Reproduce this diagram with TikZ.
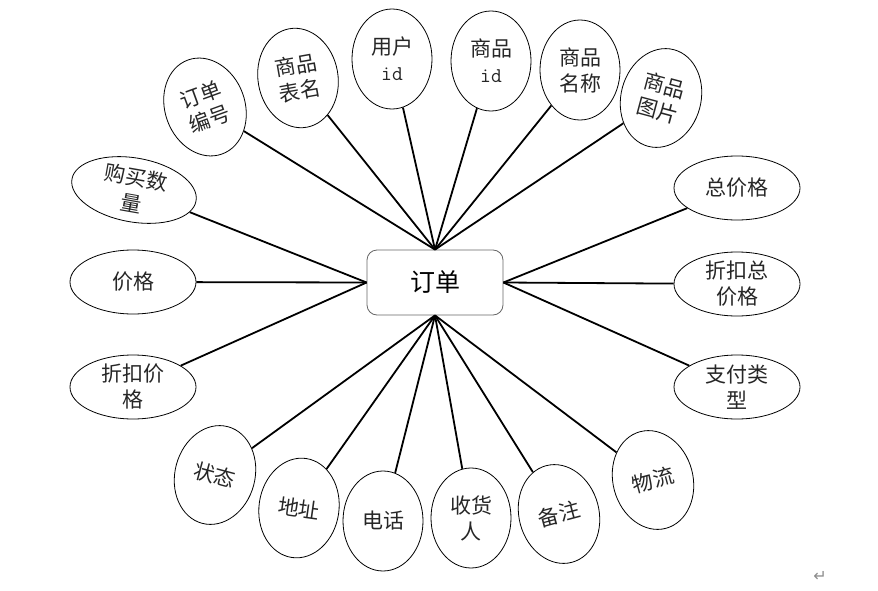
\documentclass[tikz,border=0pt]{standalone}
\usepackage{fontspec}
\setmainfont{Noto Sans CJK SC}
\newfontfamily\markfont{DejaVu Sans}
\usetikzlibrary{shapes.geometric}

\begin{document}
\begin{tikzpicture}[
  x=1pt, y=-1pt,
  attr/.style={
    ellipse, draw=black, line width=0.8pt,
    inner sep=-2pt, align=center, text=black!85,
    font=\fontsize{21}{26}\selectfont
  },
  tallattr/.style={attr, minimum width=80pt, minimum height=100pt},
  wideattr/.style={attr, minimum width=126pt, minimum height=64pt},
  entity/.style={
    rectangle, rounded corners=10pt,
    draw=black!60, line width=0.8pt,
    minimum width=136pt, minimum height=65pt,
    font=\fontsize{25}{30}\selectfont
  },
  link/.style={line width=1.8pt, draw=black},
]
\useasboundingbox (0,0) rectangle (878,591);

%% Entity
\node[entity] (order) at (435,282.5) {订单};

%% Attributes above
\node[tallattr, rotate=20]  (ordno)     at (205,107) {订单\\编号};
\node[tallattr, rotate=10]  (tblname)   at (298,78)  {商品\\表名};
\node[tallattr]             (userid)    at (392,59)  {用户\\{\ttfamily id}};
\node[tallattr]             (goodsid)   at (491,61)  {商品\\{\ttfamily id}};
\node[tallattr]             (goodsname) at (580,70)  {商品\\名称};
\node[tallattr, rotate=-15] (goodspic)  at (661,98)  {商品\\图片};

%% Attributes right
\node[wideattr] (total)     at (737,188) {总价格};
\node[wideattr] (disctotal) at (737,284) {折扣总\\价格};
\node[wideattr] (paytype)   at (737,387) {支付类\\型};

%% Attributes below
\node[tallattr, rotate=15]  (logist)   at (653,480) {物流};
\node[tallattr, rotate=15]  (remark)   at (559,514) {备注};
\node[tallattr]             (receiver) at (471,518) {收货\\人};
\node[tallattr]             (phone)    at (383,521) {电话};
\node[tallattr, rotate=-8]  (addr)     at (299,508) {地址};
\node[tallattr, rotate=-15] (state)    at (215,475) {状态};

%% Attributes left
\node[wideattr]             (discprice) at (133,387) {折扣价\\格};
\node[wideattr]             (price)     at (133,282) {价格};
\node[wideattr, rotate=-10] (qty)       at (134,190) {购买数\\量};

%% Links
\foreach \a in {ordno,tblname,userid,goodsid,goodsname,goodspic}
  \draw[link] (\a) -- (order.north);
\foreach \a in {total,disctotal,paytype}
  \draw[link] (\a) -- (order.east);
\foreach \a in {logist,remark,receiver,phone,addr,state}
  \draw[link] (\a) -- (order.south);
\foreach \a in {discprice,price,qty}
  \draw[link] (\a) -- (order.west);

%% Return mark
\node[text=black!45, font=\markfont\fontsize{16}{16}\selectfont] (retmark) at (820,576) {↵};

\end{tikzpicture}
\end{document}
